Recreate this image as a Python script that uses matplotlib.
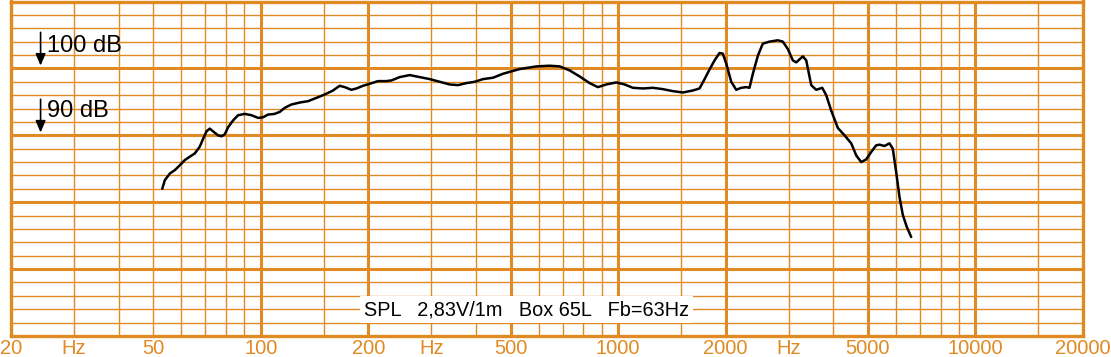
import matplotlib
matplotlib.use("Agg")
import matplotlib.pyplot as plt

# frequency response
freq = [53.0, 53.9, 55.7, 57.5, 59.3, 61.3, 63.3, 65.4, 67.5, 69.0, 70.5, 72.0, 73.5,
        75.9, 77.6, 79.3, 81.0, 83.6, 86.4, 90.2, 94.2, 98.3, 101.5, 104.8, 109.4,
        113.0, 116.7, 121.8, 128.6, 135.6, 143.2, 151.0, 159.3, 166.3, 171.8, 179.3,
        185.2, 193.2, 201.8, 212.9, 224.7, 232.1, 244.8, 261.1, 278.5, 297.0, 316.7,
        337.9, 356.4, 376.2, 396.9, 418.7, 446.5, 476.2, 502.6, 530.3, 590.6, 643.4,
        686.1, 731.7, 780.4, 832.3, 878.0, 926.8, 988.6, 1043, 1100, 1173, 1251, 1335,
        1423, 1518, 1619, 1690, 1746, 1803, 1862, 1922, 1964, 2008, 2073, 2141, 2211,
        2283, 2332, 2383, 2461, 2541, 2653, 2799, 2891, 2985, 3083, 3151, 3289, 3361,
        3471, 3584, 3726, 3823, 3948, 4120, 4302, 4492, 4638, 4790, 4947, 5108, 5275,
        5389, 5565, 5746, 5871, 6001, 6130, 6263, 6426, 6610]
spl = [82.0, 83.3, 84.3, 84.8, 85.5, 86.3, 86.8, 87.3, 88.3, 89.5, 90.6, 91.0, 90.6,
       90.0, 89.85, 90.15, 91.2, 92.2, 93.0, 93.2, 93.0, 92.6, 92.7, 93.1, 93.2,
       93.5, 94.1, 94.6, 94.9, 95.1, 95.6, 96.1, 96.7, 97.4, 97.2, 96.8,
       97.0, 97.4, 97.7, 98.1, 98.1, 98.2, 98.7, 99.0, 98.7, 98.4, 98.0,
       97.6, 97.5, 97.8, 98.0, 98.4, 98.6, 99.2, 99.55, 99.9, 100.3, 100.4,
       100.3, 99.7, 98.8, 97.8, 97.2, 97.6, 97.9, 97.6, 97.1, 97.0, 97.1, 96.9,
       96.6, 96.4, 96.7, 97.0, 98.4, 99.85, 101.2, 102.3, 102.2, 100.7, 98.0, 96.8, 97.1,
       97.2, 97.1, 99.2, 101.9, 103.7, 104.0, 104.2, 104.0, 102.9, 101.2, 100.9, 101.8, 101.2,
       97.5, 96.8, 97.1, 96.0, 93.7, 91.1, 90.0, 88.8, 87.0, 86.0, 86.4, 87.5, 88.5,
       88.6, 88.4, 88.8, 88.0, 84.5, 80.8, 78.1, 76.3, 74.8]

thick_f = [100, 200, 500, 1000, 2000, 5000, 10000]
thin_f = [30, 40, 50, 60, 70, 80, 90, 150, 300, 400, 600, 700, 800, 900, 1500,
          3000, 4000, 6000, 7000, 8000, 9000, 15000]
label_f = [20, 30, 50, 100, 200, 300, 500, 1000, 2000, 3000, 5000, 10000, 20000]
label_txt = ["20", "Hz", "50", "100", "200", "Hz", "500", "1000", "2000", "Hz",
             "5000", "10000", "20000"]

orange = "#DF8A22"
plt.rcParams["font.family"] = ["Liberation Sans", "DejaVu Sans"]

fig = plt.figure(figsize=(11.11, 3.57), dpi=100)
ax = fig.add_axes([11 / 1111, 21 / 357, 1072 / 1111, 334.5 / 357])
ax.set_xscale("log")
ax.set_xlim(20, 20000)
ax.set_ylim(60, 110)

for f in thin_f:
    ax.axvline(f, color=orange, lw=1.0, zorder=1)
for f in thick_f:
    ax.axvline(f, color=orange, lw=2.2, zorder=1)
for d in range(62, 110, 2):
    ax.axhline(d, color=orange, lw=2.2 if d % 10 == 0 else 1.0, zorder=1)

for s in ax.spines.values():
    s.set_color(orange)
    s.set_linewidth(2.4)

ax.plot(freq, spl, color="black", lw=1.8, zorder=3,
        solid_joinstyle="round", solid_capstyle="round")

ax.set_xticks(label_f)
ax.set_xticklabels(label_txt)
ax.xaxis.set_minor_locator(matplotlib.ticker.NullLocator())
ax.set_yticks([])
ax.tick_params(axis="x", length=0, pad=2.5, labelsize=14.5, labelcolor=orange)

for top, txt, ty in [(105.8, "100 dB", 103.4), (95.8, "90 dB", 93.6)]:
    ax.annotate("", xy=(24.2, top - 5.8), xytext=(24.2, top),
                arrowprops=dict(arrowstyle="-|>,head_width=0.3,head_length=0.7",
                                color="black", lw=1.2), zorder=4)
    ax.text(25.2, ty, txt, fontsize=17, ha="left", va="center", color="black", zorder=4)

ax.text(555, 63.9, "SPL   2,83V/1m   Box 65L   Fb=63Hz", fontsize=14.3,
        ha="center", va="center", color="black", zorder=4,
        bbox=dict(facecolor="white", edgecolor="none", boxstyle="square,pad=0.2"))

fig.savefig("out.png", dpi=100)
